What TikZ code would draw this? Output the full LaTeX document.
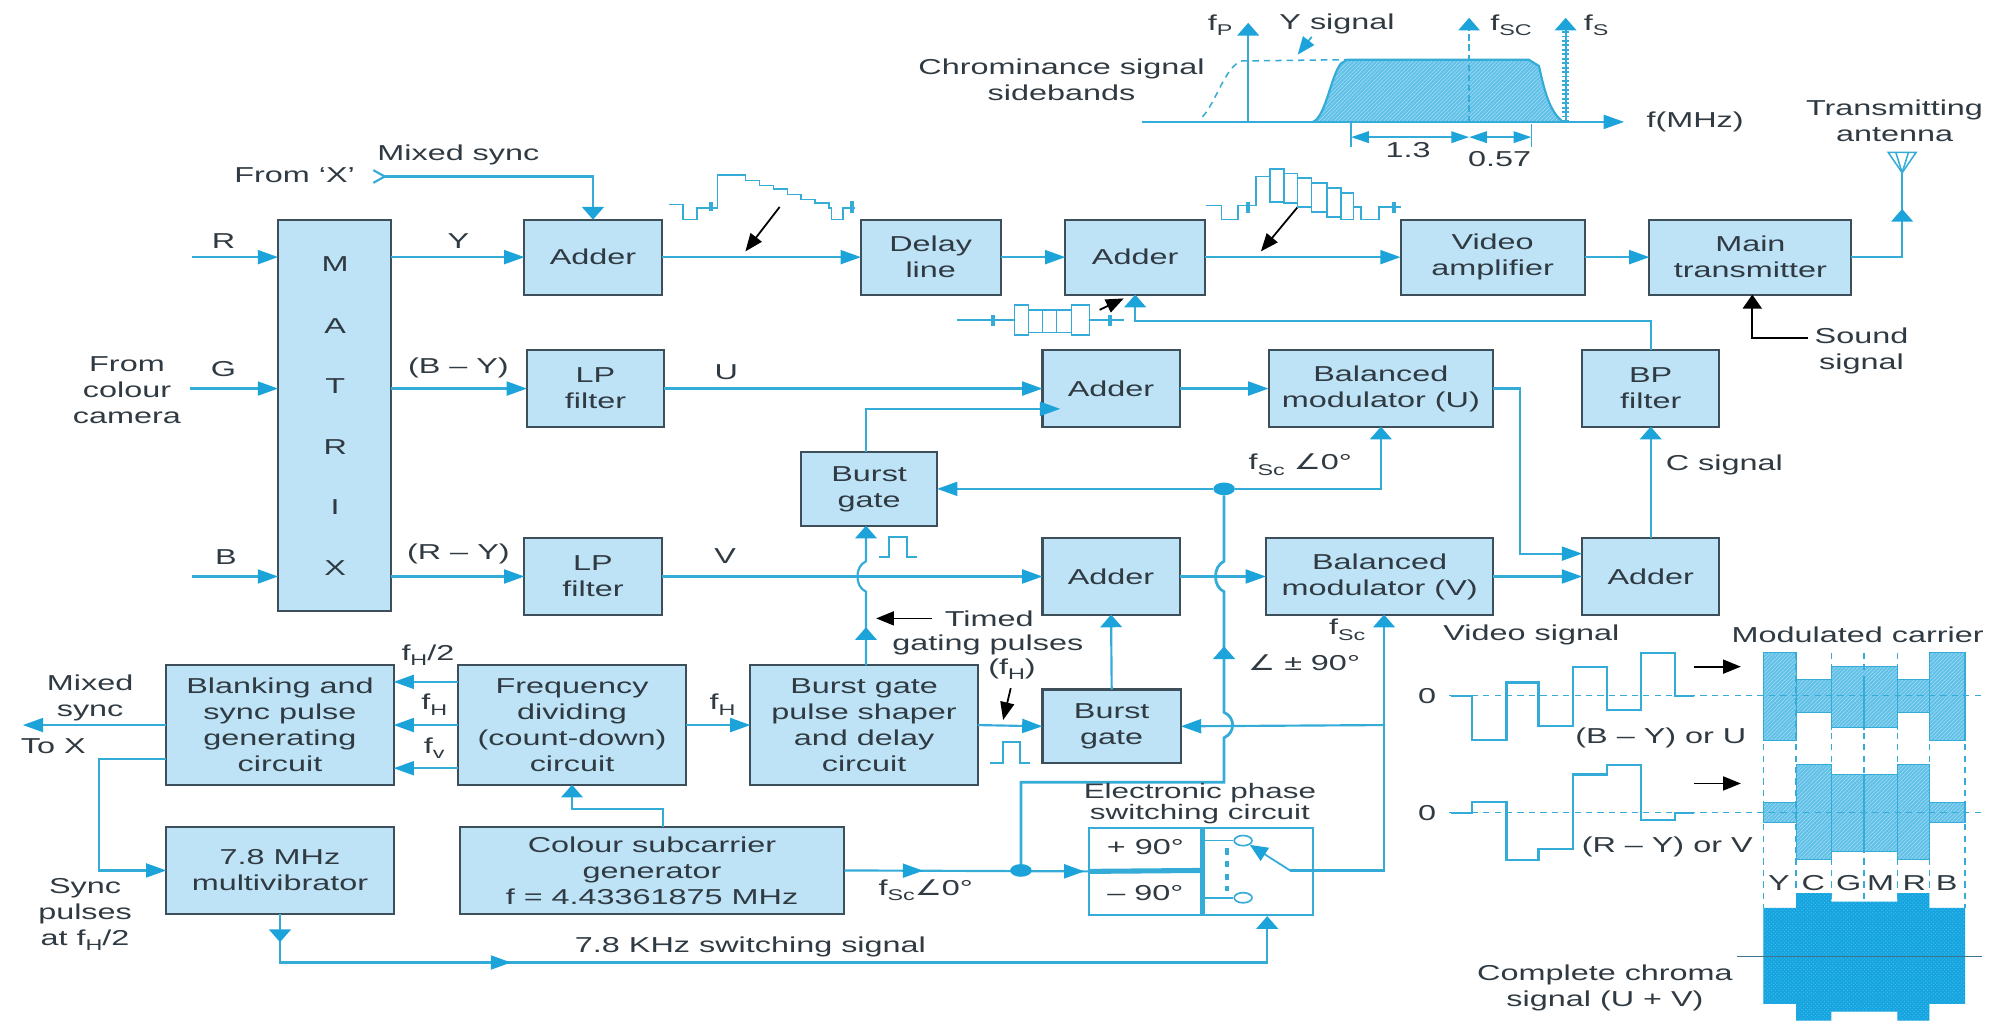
\documentclass[tikz,border=0pt]{standalone}
\usepackage{fontspec}
\setmainfont[FakeStretch=1.5]{Liberation Sans}
\newfontfamily\dvfont[FakeStretch=1.4]{DejaVu Sans}
\usetikzlibrary{arrows.meta,patterns,decorations.markings,calc,shapes.geometric}
\definecolor{boxfill}{HTML}{BEE3F6}
\definecolor{boxline}{HTML}{3E4F5C}
\definecolor{linecol}{HTML}{35ACD8}
\definecolor{tipcol}{HTML}{1BA3DA}
\definecolor{txtcol}{HTML}{303A42}
\definecolor{hatchbase}{HTML}{5FC0E8}
\definecolor{solidcol}{HTML}{14A5E0}
\newcommand{\sbs}[1]{\raisebox{-0.45ex}{\scalebox{.72}{#1}}}
\newcommand{\angl}{{\dvfont ∠}}
\newcommand{\blk}[6]{%
  \pgfmathsetmacro{\wdd}{#4-#2}\pgfmathsetmacro{\htt}{#5-#3}%
  \node[blkbox,anchor=north west,minimum width=\wdd pt,minimum height=\htt pt] (#1) at (#2,#3) {#6};}
\tikzset{
  tipH/.tip={Triangle[length=16pt,width=11pt,color=tipcol]},
  tipV/.tip={Triangle[length=10pt,width=17pt,color=tipcol]},
  tipS/.tip={Triangle[length=14pt,width=9pt,color=tipcol]},
  blkbox/.style={draw=boxline,fill=boxfill,line width=1.6pt,inner sep=0pt,outer sep=0pt,align=center,text=txtcol,font=\fontsize{17}{20.5}\selectfont},
  lab/.style={inner sep=0pt,outer sep=0pt,align=center,text=txtcol,font=\fontsize{17}{20.5}\selectfont},
  cn/.style={draw=linecol,line width=1.7pt},
  arr/.style={cn,-{tipH}},
  arrv/.style={cn,-{tipV}},
  tipath/.style={postaction={decorate,decoration={markings,mark=at position #1 with {\arrow{tipH}}}}},
  tipatv/.style={postaction={decorate,decoration={markings,mark=at position #1 with {\arrow{tipV}}}}},
  bk/.style={draw=black,line width=1.4pt,-{Triangle[length=14pt,width=11pt,color=black]}},
  wv/.style={draw=linecol,line width=1.5pt},
  dsh/.style={draw=linecol,line width=1.2pt,dash pattern=on 5pt off 4pt},
  hatchA/.style={preaction={fill=hatchbase},pattern=north east lines,pattern color=white!45!hatchbase,draw=linecol,line width=1pt},
  hatchB/.style={preaction={fill=solidcol},pattern=crosshatch dots,pattern color=white!25!solidcol,draw=none},
  jdot/.style={ellipse,fill=tipcol,inner sep=0pt,minimum width=17pt,minimum height=10pt},
  contact/.style={ellipse,draw=linecol,fill=white,line width=1.3pt,inner sep=0pt,minimum width=14pt,minimum height=8pt},
}
\begin{document}
\begin{tikzpicture}[x=1pt,y=-1pt]
\useasboundingbox (0,0) rectangle (1568,807);
% blocks
\blk{matrix}{219}{173}{308}{481}{}
\blk{adderY}{413}{173}{521}{232}{Adder}
\blk{lpU}{415}{276}{523}{336}{LP\\filter}
\blk{lpV}{413}{424}{521}{484}{LP\\filter}
\blk{delay}{678}{173}{788}{232}{Delay\\line}
\blk{adderT}{839}{173}{949}{232}{Adder}
\blk{video}{1103}{173}{1248}{232}{Video\\amplifier}
\blk{main}{1299}{173}{1458}{232}{Main\\transmitter}
\blk{adderU}{821}{276}{929}{336}{Adder}
\blk{balU}{999}{276}{1176}{336}{Balanced\\modulator (U)}
\blk{bp}{1246}{276}{1354}{336}{BP\\filter}
\blk{bg1}{631}{356}{738}{414}{Burst\\gate}
\blk{adderV}{821}{424}{929}{484}{Adder}
\blk{balV}{997}{424}{1176}{484}{Balanced\\modulator (V)}
\blk{adderC}{1246}{424}{1354}{484}{Adder}
\blk{blank}{131}{524}{310}{618}{Blanking and\\sync pulse\\generating\\circuit}
\blk{freq}{361}{524}{540}{618}{Frequency\\dividing\\(count-down)\\circuit}
\blk{shaper}{591}{524}{770}{618}{Burst gate\\pulse shaper\\and delay\\circuit}
\blk{bg2}{821}{543}{930}{601}{Burst\\gate}
\blk{mult}{131}{651}{310}{720}{7.8 MHz\\multivibrator}
\blk{colour}{362}{651}{665}{720}{Colour subcarrier\\generator\\f = 4.43361875 MHz}
% matrix letters
\node[lab] (mM) at (264,208) {M};
\node[lab] (mA) at (264,257) {A};
\node[lab] (mT) at (264,304) {T};
\node[lab] (mR) at (264,352) {R};
\node[lab] (mI) at (264,399) {I};
\node[lab] (mX) at (264,447) {X};
% free ends and bends
\coordinate (rin) at (151,202.5);
\coordinate (gin) at (150,306);
\coordinate (bin) at (151,454);
\coordinate (sx) at (303,139);
\coordinate (antb) at (1498,136);
\coordinate (anttop) at (1498,120);
\coordinate (jA) at (894,253);
\coordinate (jB) at (1197,306);
\coordinate (jC) at (1197,436);
\coordinate (jD) at (835,322);
\coordinate (vx) at (682,0);
\coordinate (jF) at (964,616);
\coordinate (jG) at (804,616);
\coordinate (jH) at (1090,685.5);
\coordinate (jI) at (1090,571);
\coordinate (snd) at (1424,266);
\coordinate (sndb) at (1380,266);
\coordinate (cj) at (522,637);
\coordinate (toX) at (18,571);
\coordinate (bl) at (78,598);
\coordinate (sw) at (998,758);
\coordinate (swb) at (218,758);
\coordinate (fa) at (335,537);
\coordinate (fb) at (335,605);
% connectors
\draw[arr] (rin) -- (matrix.west |- rin);
\draw[arr] (gin) -- (matrix.west |- gin);
\draw[arr] (bin) -- (matrix.west |- bin);
\draw[arr] (matrix.east |- adderY.west) -- (adderY.west);
\draw[arr] (matrix.east |- lpU.west) -- (lpU.west);
\draw[arr] (matrix.east |- lpV.west) -- (lpV.west);
\draw[arr] (adderY.east) -- (delay.west);
\draw[arr] (delay.east) -- (adderT.west);
\draw[arr] (adderT.east) -- (video.west);
\draw[arr] (video.east) -- (main.west);
\draw[cn,tipatv=78pt] (main.east) -| (antb);
\draw[arrv] (sx) -| (adderY.north);
\draw[cn] (294,134) -- (sx) -- (294,144);
\draw[arr] (lpU.east) -- (adderU.west);
\draw[arr] (adderU.east) -- (balU.west);
\draw[arr] (balU.east |- jB) -- (jB) -- (jC) -- (adderC.west |- jC);
\draw[arrv] (adderC.north) -- (bp.south);
\draw[arrv] (bp.north) |- (jA) -- (jA |- adderT.south);
\draw[arr] (bg1.north -| vx) |- (jD);
\draw[cn,tipatv=30pt,-{tipV}] (vx |- shaper.north) -- (682,466) .. controls (673,462) and (673,446) .. (682,442) -- (vx |- bg1.south);
\draw[arr] (lpV.east) -- (adderV.west);
\node[jdot] (dot) at (964,385) {};
\draw[arr] (dot) -- (bg1.east);
\draw[arrv] (dot) -| (balU.south);
\draw[arr] (adderV.east) -- (balV.west);
\draw[arr] (balV.east) -- (adderC.west |- balV.east);
\draw[arrv] (bg2.north) -- (adderV.south);
\draw[arr] (shaper.east) -- (bg2.west);
\draw[arr] (jI) -- (bg2.east);
\draw[cn,line width=2.2pt] (dot) -- (964,442) .. controls (955,446) and (955,462) .. (964,466) -- (964,561) .. controls (973,565) and (973,577) .. (964,581) -- (jF) -- (jG) -- (jG |- colour.east);
\draw[-{tipV},cn,line width=2.2pt] (964,530) -- (964,509);
\draw[arr] (freq.west) -- (blank.east);
\draw[arr] (freq.west |- fa) -- (blank.east |- fa);
\draw[arr] (freq.west |- fb) -- (blank.east |- fb);
\draw[arr] (freq.east) -- (shaper.west);
\draw[arr] (blank.west) -- (toX);
\draw[arr] (blank.west |- bl) -- (bl) |- (mult.west);
\draw[arrv] (cj |- colour.north) -- (cj) -| (freq.south);
% phase switch box
\node[draw=linecol,fill=white,line width=1.5pt,inner sep=0pt,minimum width=176pt,minimum height=69pt,anchor=north west] (phase) at (857,651) {};
\draw[cn,tipath=62pt,tipath=189pt,line width=1.7pt] (colour.east) -- (phase.west);
\node[jdot] (dot2) at (jG |- colour.east) {};
\draw[cn,line width=4pt] (phase.west) -- (947,685.5);
\draw[cn,line width=4pt] (947,651) -- (947,720);
\node[lab] (p90) at (902,667) {+ 90°};
\node[lab] (m90) at (902,703) {– 90°};
\node[contact] (ca) at (979,662) {};
\node[contact] (cb) at (979,707) {};
\draw[cn,line width=1.2pt] (947,662) -- (ca);
\draw[cn,line width=1.2pt] (947,707) -- (cb);
\draw[dsh,line width=3pt,dash pattern=on 5pt off 5pt] (966,668) -- (966,702);
\draw[cn,line width=1.4pt,-{Triangle[length=14pt,width=12pt,color=tipcol]}] (1016,685.5) -- (ca);
\draw[cn] (1016,685.5) -- (jH) -- (jI);
\draw[arrv] (jI) -- (jH |- balV.south);
\draw[cn,tipatv=22pt,tipath=220pt,-{tipV}] (mult.south) |- (sw) -- (sw |- phase.south);
% labels, left
\node[lab] (lR) at (176,190) {R};
\node[lab] (lG) at (176,291) {G};
\node[lab] (lB) at (178,439) {B};
\node[lab] (lcam) at (100,307) {From\\colour\\camera};
\node[lab] (lY) at (361,190) {Y};
\node[lab] (lBY) at (361,290) {(B – Y)};
\node[lab] (lRY) at (361,436) {(R – Y)};
\node[lab] (lU) at (572,293) {U};
\node[lab] (lV) at (571,438) {V};
\node[lab] (lfromX) at (232,138) {From ‘X’};
\node[lab] (lmix) at (361,122) {Mixed sync};
\node[lab] (lmix2) at (71,550) {Mixed\\sync};
\node[lab] (ltoX) at (42,588) {To X};
\node[lab] (lsync) at (67,720) {Sync\\pulses\\at f\sbs{H}/2};
\node[lab] (lfh2) at (337,516) {f\sbs{H}/2};
\node[lab] (lfh) at (342,555) {f\sbs{H}};
\node[lab] (lfv) at (342,589) {f\sbs{v}};
\node[lab] (lfh3) at (569,555) {f\sbs{H}};
\node[lab] (lfh4) at (797,527) {(f\sbs{H})};
\node[lab] (ltimed) at (779,487) {Timed};
\node[lab] (lgate) at (778,508) {gating pulses};
\node[lab] (lfsc0) at (1024,366) {f\sbs{Sc} \angl 0°};
\node[lab] (lfsc1) at (1061,496) {f\sbs{Sc}};
\node[lab] (lfsc2) at (1027,522) {\angl\ ± 90°};
\node[lab] (lfsc3) at (729,701) {f\sbs{Sc}\angl 0°};
\node[lab,font=\fontsize{16.5}{14.5}\selectfont] (leps) at (945,633) {Electronic phase\\switching circuit};
\node[lab] (lsw) at (591,746) {7.8 KHz switching signal};
\node[lab] (lcs) at (1358,366) {C signal};
\node[lab] (lsound) at (1466,276) {Sound\\signal};
\node[lab] (lant) at (1492,95) {Transmitting\\antenna};
% sound, timed, black arrows
\draw[cn,draw=black,-{Triangle[length=11pt,width=15pt,color=black]},line width=1.4pt] (snd) -- (sndb) -- (sndb |- main.south);
\draw[bk] (734,487) -- (690,487);
\draw[bk] (796,542) -- (790,567);
\draw[bk] (614,163) -- (587,198);
\draw[bk] (1022,163) -- (993,198);
\draw[bk] (866,244) -- (885,235);
% antenna
\draw[cn,line width=1.2pt] (1487,120) -- (1509,120) -- (antb) -- cycle;
\draw[cn,line width=1.2pt] (1493,120) -- (antb) -- (1503,120);
% pulses
\draw[wv] (692,439) -- (700,439) -- (700,423) -- (714,423) -- (714,439) -- (722,439);
\draw[wv] (780,601) -- (790,601) -- (790,584) -- (803,584) -- (803,601) -- (811,601);
% Y waveform
\draw[wv,line width=1.2pt] (527,161) -- (538,161) -- (538,173) -- (549,173) -- (549,164) -- (565,164) -- (565,138) -- (576,138) -- (587,138) -- (587,142) -- (598,142) -- (598,146) -- (609,146) -- (609,149) -- (620,149) -- (620,153) -- (631,153) -- (631,157) -- (642,157) -- (642,160) -- (653,160) -- (653,164) -- (655,164) -- (655,173) -- (664,173) -- (664,164) -- (673,164);
\draw[wv,line width=3pt] (560,159) -- (560,166);
\draw[wv,line width=3pt] (671,158) -- (671,168);
% composite waveform
\draw[wv,line width=1.2pt] (950,162) -- (962,162) -- (962,173) -- (975,173) -- (975,162) -- (989,162) -- (989,139) -- (1000,139);
\draw[wv,line width=1.2pt] (1000,133) rectangle (1011,159);
\draw[wv,line width=1.2pt] (1011,136.5) rectangle (1022,160);
\draw[wv,line width=1.2pt] (1022,140) rectangle (1033,163);
\draw[wv,line width=1.2pt] (1033,144) rectangle (1045,167);
\draw[wv,line width=1.2pt] (1045,148) rectangle (1056,171);
\draw[wv,line width=1.2pt] (1056,152) rectangle (1066,173);
\draw[wv,line width=1.2pt] (1066,163) -- (1072,163) -- (1072,173) -- (1086,173) -- (1086,163) -- (1103,163);
\draw[wv,line width=3pt] (983,159) -- (983,168);
\draw[wv,line width=3pt] (1098,159) -- (1098,168);
% chroma packet waveform
\draw[wv,line width=1.2pt] (754,252) -- (799,252);
\draw[wv,line width=1.2pt] (799,240) rectangle (810,264);
\draw[wv,line width=1.2pt] (810,244) rectangle (821,262);
\draw[wv,line width=1.2pt] (821,244) rectangle (832,262);
\draw[wv,line width=1.2pt] (832,244) rectangle (844,262);
\draw[wv,line width=1.2pt] (844,240) rectangle (858,264);
\draw[wv,line width=1.2pt] (858,252) -- (885,252);
\draw[wv,line width=3pt] (782,248) -- (782,257);
\draw[wv,line width=3pt] (874,248) -- (874,257);
% spectrum
\path[hatchA,draw=none] (1034,96) .. controls (1044,92) and (1048,60) .. (1056,50) -- (1061,47) -- (1204,47) -- (1212,52) .. controls (1216,70) and (1220,88) .. (1231,96) -- cycle;
\draw[cn] (1034,96) .. controls (1044,92) and (1048,60) .. (1056,50) -- (1061,47) -- (1204,47) -- (1212,52) .. controls (1216,70) and (1220,88) .. (1231,96);
\draw[dsh] (947,92) .. controls (958,80) and (965,52) .. (978,48) -- (1061,47);
\coordinate (sbl) at (899,96);
\coordinate (sbr) at (1279,96);
\draw[arr] (sbl) -- (sbr);
\draw[arrv] (983,96) -- (983,18);
\draw[cn,line width=1.2pt,dash pattern=on 5pt off 3pt,-{tipV}] (1157,96) -- (1157,14);
\draw[cn,line width=5pt,dash pattern=on 1.5pt off 2pt] (1233,96) -- (1233,24);
\draw[arrv] (1233,96) -- (1233,14);
\draw[cn,line width=1pt] (1064,96) -- (1064,116);
\draw[cn,line width=1pt] (1206,98) -- (1206,116);
\draw[cn,{tipS}-{tipS}] (1064,108) -- (1157,108);
\draw[cn,{tipS}-{tipS}] (1157,108) -- (1206,108);
\draw[cn,line width=1.4pt,-{Triangle[length=14pt,width=11pt,color=tipcol]}] (1033,29) -- (1022,43);
\node[lab] (sfp) at (961,20) {f\sbs{P}};
\node[lab] (sy) at (1053,19) {Y signal};
\node[lab] (sfc) at (1190,20) {f\sbs{SC}};
\node[lab] (sfs) at (1257,20) {f\sbs{S}};
\node[lab] (scs) at (836,63) {Chrominance signal\\sidebands};
\node[lab] (smhz) at (1335,96) {f(MHz)};
\node[lab] (s13) at (1109,118) {1.3};
\node[lab] (s57) at (1181,125) {0.57};
% video signals
\node[lab] (vs) at (1206,500) {Video signal};
\node[lab] (mc) at (1463,500) {Modulated carrier};
\node[lab] (z1) at (1124,548) {0};
\node[lab] (z2) at (1124,640) {0};
\draw[wv,line width=1.7pt] (1142.5,548) -- (1159,548) -- (1159,582.7) -- (1186.4,582.7) -- (1186.4,537.5) -- (1211.6,537.5) -- (1211.6,571.6) -- (1239,571.6) -- (1239,525) -- (1265.6,525) -- (1265.6,559) -- (1292.4,559) -- (1292.4,514.4) -- (1319,514.4) -- (1319,548) -- (1334,548);
\draw[wv,line width=1.7pt] (1142.5,640) -- (1159,640) -- (1159,631.7) -- (1186.4,631.7) -- (1186.4,677) -- (1211.6,677) -- (1211.6,668.7) -- (1239,668.7) -- (1239,610) -- (1265.6,610) -- (1265.6,602.3) -- (1292.4,602.3) -- (1292.4,645.7) -- (1319,645.7) -- (1319,640) -- (1334,640);
\draw[bk] (1334,525) -- (1371,525);
\draw[bk] (1334,617) -- (1371,617);
\node[lab] (bu) at (1308,581) {(B – Y) or U};
\node[lab] (rv) at (1313,667) {(R – Y) or V};
% carrier bars
\path[hatchA] (1388.8,513.6) -- (1414.6,513.6) -- (1414.6,535.4) -- (1442.3,535.4) -- (1442.3,524.9) -- (1494.2,524.9) -- (1494.2,535.4) -- (1519.4,535.4) -- (1519.4,513.6) -- (1547.6,513.6) -- (1547.6,583.2) -- (1519.4,583.2) -- (1519.4,561) -- (1494.2,561) -- (1494.2,573) -- (1442.3,573) -- (1442.3,561) -- (1414.6,561) -- (1414.6,583.2) -- (1388.8,583.2) -- cycle;
\path[hatchA] (1388.8,632) -- (1414.6,632) -- (1414.6,602.3) -- (1442.3,602.3) -- (1442.3,610.2) -- (1494.2,610.2) -- (1494.2,602.3) -- (1519.4,602.3) -- (1519.4,632) -- (1547.6,632) -- (1547.6,647.8) -- (1519.4,647.8) -- (1519.4,677) -- (1494.2,677) -- (1494.2,670.6) -- (1442.3,670.6) -- (1442.3,677) -- (1414.6,677) -- (1414.6,647.8) -- (1388.8,647.8) -- cycle;
\path[hatchB] (1388.8,715) -- (1414.6,715) -- (1414.6,703.4) -- (1442.3,703.4) -- (1442.3,710) -- (1494.2,710) -- (1494.2,703.4) -- (1519.4,703.4) -- (1519.4,715) -- (1547.6,715) -- (1547.6,790.6) -- (1519.4,790.6) -- (1519.4,803.7) -- (1494.2,803.7) -- (1494.2,796.6) -- (1442.3,796.6) -- (1442.3,803.7) -- (1414.6,803.7) -- (1414.6,790.6) -- (1388.8,790.6) -- cycle;
\foreach \xx in {1414.6,1442.3,1468,1494.2,1519.4}{\draw[cn,line width=1pt] (\xx,535) -- (\xx,575);\draw[cn,line width=1pt] (\xx,610) -- (\xx,672);}
\foreach \xx/\yy in {1388.8/715,1414.6/703,1442.3/710,1468/710,1494.2/710,1519.4/703,1547.6/715}{\draw[dsh] (\xx,514) -- (\xx,\yy);}
\draw[dsh,line width=1pt] (1141,548) -- (1560,548);
\draw[dsh,line width=1pt] (1141,640) -- (1560,640);
\draw[cn,line width=1pt,draw=boxline!60!linecol] (1368,753) -- (1561,753);
\node[lab] (cy) at (1401,695.5) {Y};
\node[lab] (cc) at (1428,695.5) {C};
\node[lab] (cg) at (1456,695.5) {G};
\node[lab] (cm) at (1481,695.5) {M};
\node[lab] (cr) at (1507.5,695.5) {R};
\node[lab] (cb2) at (1533,695.5) {B};
\node[lab] (cc1) at (1264,778) {Complete chroma\\signal (U + V)};
\end{tikzpicture}
\end{document}
